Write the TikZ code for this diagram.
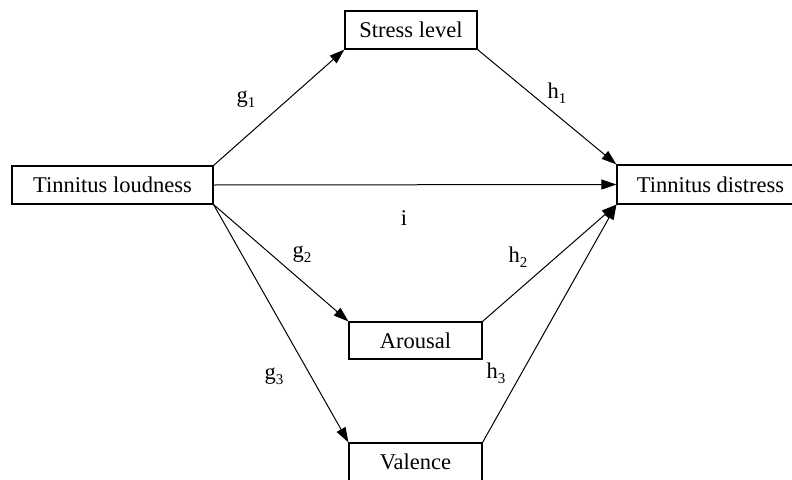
\documentclass[tikz,border=0pt]{standalone}
\usepackage{fontspec}
\setmainfont{Liberation Serif}
\usetikzlibrary{arrows.meta}
\newcommand{\lowidx}[1]{\raisebox{-5pt}{\fontsize{15}{15}\selectfont #1}}

\begin{document}
\begin{tikzpicture}[x=1pt, y=-1pt,
    box/.style={draw, line width=1.1pt, inner sep=0pt, font=\fontsize{22.5}{27}\selectfont},
    lbl/.style={inner sep=0pt, font=\fontsize{22.5}{27}\selectfont},
    arr/.style={-{Triangle[length=15pt,width=10pt]}, line width=1pt}]
            \useasboundingbox (0,0) rectangle (792,479);
            \clip (0,0) rectangle (792,479);
            \node[box, minimum width=201pt, minimum height=38pt] (loud) at (112.5,185) {Tinnitus loudness};
            \node[box, minimum width=132pt, minimum height=38pt] (stress) at (411,30) {Stress level};
            \node[box, minimum width=187pt, minimum height=39pt] (distress) at (710.5,184.5) {Tinnitus distress};
            \node[box, minimum width=133pt, minimum height=37pt] (arousal) at (415.5,340.5) {Arousal};
            \node[box, minimum width=133pt, minimum height=38pt] (valence) at (415.5,462) {Valence};
            \draw[arr] (loud.north east) -- (stress.south west);
            \draw[arr] (stress.south east) -- (distress.north west);
            \draw[arr] (loud.east) -- (distress.west);
            \draw[arr] (loud.south east) -- (arousal.north west);
            \draw[arr] (loud.south east) -- (valence.north west);
            \draw[arr] (arousal.north east) -- (distress.south west);
            \draw[arr] (valence.north east) -- (distress.south west);
            \node[lbl] (g1) at (246,99) {g\lowidx{1}};
            \node[lbl] (h1) at (557,93) {h\lowidx{1}};
            \node[lbl] (i) at (404,218) {i};
            \node[lbl] (g2) at (302,254) {g\lowidx{2}};
            \node[lbl] (h2) at (518,257) {h\lowidx{2}};
            \node[lbl] (g3) at (274,376) {g\lowidx{3}};
            \node[lbl] (h3) at (496,373) {h\lowidx{3}};
          \end{tikzpicture}
\end{document}
